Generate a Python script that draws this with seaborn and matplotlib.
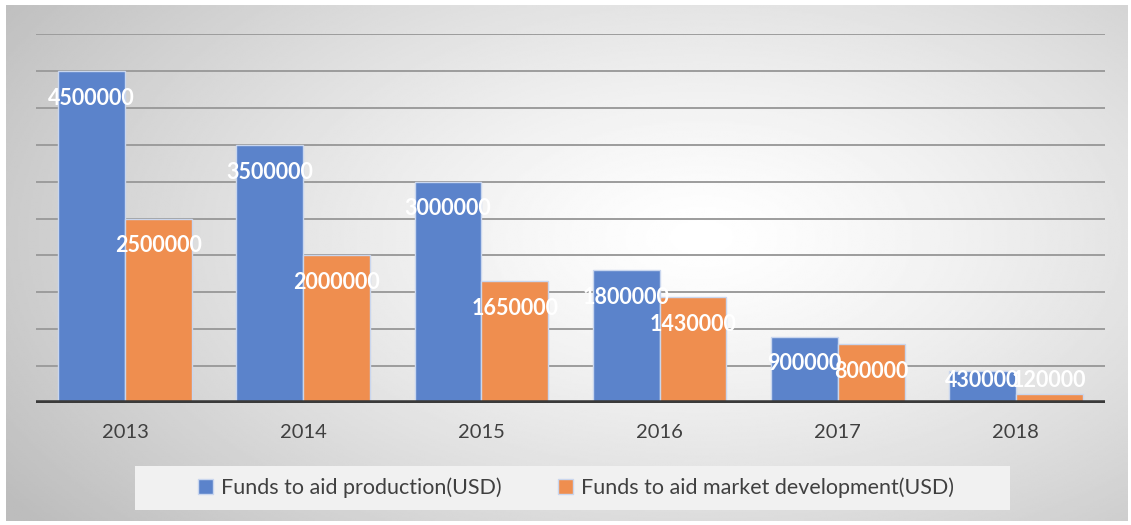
import numpy as np
import pandas as pd
import matplotlib.pyplot as plt
import matplotlib.patches as mpatches
import seaborn as sns

# data
years = ['2013', '2014', '2015', '2016', '2017', '2018']
production = [4500000, 3500000, 3000000, 1800000, 900000, 430000]
market = [2500000, 2000000, 1650000, 1430000, 800000, 120000]
series = ['Funds to aid production(USD)', 'Funds to aid market development(USD)']

df = pd.DataFrame({
    'Year': years * 2,
    'Value': production + market,
    'Series': [series[0]] * len(years) + [series[1]] * len(years),
})

sns.set_style('white')
plt.rcParams['font.family'] = ['Lato', 'DejaVu Sans']

fig = plt.figure(figsize=(11.31, 5.25), dpi=100)

# radial gray gradient background
bg = fig.add_axes([6 / 1131, 4 / 525, 1122 / 1131, 516 / 525], zorder=-10)
yy, xx = np.mgrid[0:1:300j, 0:1:600j]
r = np.sqrt(((xx - 0.62) / 0.75) ** 2 + ((yy - 0.45) / 0.9) ** 2)
shade = 1.0 - 0.26 * np.clip(r, 0, 1) ** 1.3
bg.imshow(shade, cmap='gray', vmin=0, vmax=1, aspect='auto', extent=[0, 1, 0, 1])
bg.axis('off')

ax = fig.add_axes([36 / 1131, 122 / 525, 1069 / 1131, 369 / 525])
ax.set_facecolor('none')

palette = {series[0]: '#5b83cb', series[1]: '#ef8e4f'}
sns.barplot(data=df, x='Year', y='Value', hue='Series', hue_order=series,
            order=years, palette=palette, width=0.75, ax=ax,
            edgecolor='#c9d6ee', linewidth=1, saturation=1, zorder=3)

ax.set_ylim(0, 5000000)
ax.set_xlim(-0.5, 5.5)
ax.set_yticks(np.arange(500000, 5000001, 500000))
ax.set_yticklabels([])
ax.grid(axis='y', color='#9c9c9c', linewidth=1.4, zorder=0)
ax.axhline(0, color='#3a3a3a', linewidth=4, zorder=4)
ax.set_xlabel('')
ax.set_ylabel('')
ax.tick_params(axis='x', length=0, pad=15, labelsize=14.5, labelcolor='#404040')
ax.tick_params(axis='y', length=0)
sns.despine(ax=ax, left=True, bottom=True)

# value labels near the top of each bar
for p in ax.patches:
    h = p.get_height()
    if h <= 0:
        continue
    ax.text(p.get_x() + p.get_width() / 2, max(h - 370000, 310000), f'{int(h)}',
            ha='center', va='center', color='white', fontsize=15.5,
            fontweight='bold', zorder=6)

# legend in a light box at the bottom
handles, labels = ax.get_legend_handles_labels()
ax.get_legend().remove()
fig.patches.append(mpatches.Rectangle((135 / 1131, 15 / 525), 875 / 1131, 44 / 525,
                                      transform=fig.transFigure, facecolor='#f1f1f1',
                                      edgecolor='none', zorder=-5))
fig.legend(handles, labels, loc='center', bbox_to_anchor=(576 / 1131, 37 / 525),
           ncol=2, frameon=False, fontsize=15.5, labelcolor='#404040',
           handlelength=0.7, handleheight=0.7, handletextpad=0.4, columnspacing=2.6)

fig.savefig('out.png', dpi=100)
